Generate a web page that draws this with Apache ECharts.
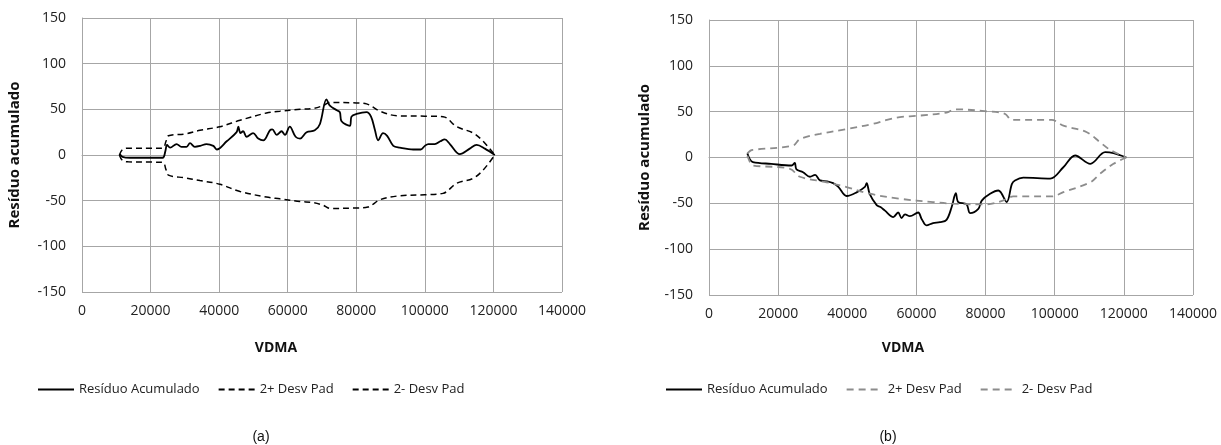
<!DOCTYPE html>
<html>
<head>
<meta charset="utf-8">
<title>Resíduo acumulado x VDMA</title>
<script src="https://cdn.jsdelivr.net/npm/echarts@6/dist/echarts.min.js"></script>
<style>
  html,body{margin:0;padding:0;background:#fff;}
  #main{width:1221px;height:445px;}
</style>
</head>
<body>
<div id="main"></div>
<script>
// ---- dados (a) ----
var aResX = [11000,11800,14000,23500,24300,24800,25700,27600,29000,30500,31500,32900,34500,36300,38300,39300,42200,45100,45600,46200,47000,48000,49900,51400,52900,54800,55500,56800,58200,59200,60600,62300,63600,65500,67900,69400,71300,72300,74300,75200,75700,78100,78600,80100,83000,84300,85400,86400,87800,89000,90800,92700,96600,98800,100000,101000,102900,104500,105800,107300,110200,113100,115100,117500,120400];
var aResY = [1,-2,-3,-3,4,11,8,12,9,9,13,9,10,12,10,6,15,25,31,24,26,20,24,18,16,27,28,22,26,22,31,20,18,25,27,34,61,54,49,47,37,32,42,45,47,42,28,16,24,21,10,8,6,6,10,12,12,15,17,12,1,7,11,7,0];
var aSupX = [10900,11800,13500,23500,24500,25200,30000,34400,40200,46100,53800,57700,63600,67400,70300,72300,80000,83000,86900,91800,100000,105300,109300,114100,117000,120400];
var aSupY = [0,6,7.5,7.5,15,21,23,27,31,38,46,48,50,51,54,57.5,57,56,48,43,42.5,42,31,24,15,0];
var aInfX = [10900,11800,13500,23500,24500,25200,30000,34400,40200,46100,53800,57700,63600,67400,70300,72300,80000,83400,86900,91800,100000,105300,109300,114100,117000,120400];
var aInfY = [0,-6,-7.5,-8,-16,-22,-25,-28,-32,-40,-46,-48,-51,-52,-55,-58.5,-58,-57,-49,-45,-43.5,-42,-31,-25.5,-16.5,0];

// ---- dados (b) ----
var bResX = [11100,11800,12700,18000,23900,24800,25300,27200,29200,30700,32100,34200,35900,37400,39800,42700,45100,45600,46500,48500,49600,50900,53300,54700,55700,56700,58100,60500,61500,62900,64800,66800,68700,70200,71400,72100,74500,75500,77900,78900,81300,83700,86100,87600,88500,90900,98700,102500,105900,110300,114600,117000,120700];
var bResY = [4.5,-2,-5,-7,-8.7,-6,-13,-16,-21,-19,-25,-26,-28,-32,-42,-38,-32,-28,-40,-52,-54,-58,-65,-60,-66,-62,-64,-60,-67,-74,-71.5,-70.5,-68,-54,-39,-48.6,-51,-60.6,-56,-47,-39.6,-36,-48.6,-29,-25,-22,-23,-10.6,2.2,-6.9,5.8,4.7,0];
var bSupX = [11100,12000,12700,24300,26300,32100,39800,47500,51400,55200,61000,68700,71100,80300,85600,87600,99100,102500,109300,113100,116000,120700];
var bSupY = [4.5,7.5,8.4,13,20,25.8,31,36.7,41,44,45.7,49,52.6,50.4,47.6,41,41,34.8,27.6,16.7,8.4,0];
var bInfX = [11100,12000,12700,23400,26300,34000,39800,46500,55200,64800,70600,80300,85000,88000,99100,102500,110300,113100,117000,120700];
var bInfY = [2,-6,-8.7,-12.3,-21,-27,-32.3,-39.5,-45,-48.6,-50.4,-51.2,-47,-42.5,-42.5,-37.8,-27,-17.8,-6.9,0];

// ticks
var xTicks = [0,20000,40000,60000,80000,100000,120000,140000];
var yTicks = [-150,-100,-50,0,50,100,150];

var names = ['Resíduo Acumulado','2+ Desv Pad','2- Desv Pad'];

function zip(xs,ys){
    var out=[];
    for(var i=0;i<xs.length;i++){ out.push([xs[i],ys[i]]); }
    return out;
}

var font = '"Open Sans", "Liberation Sans", sans-serif';
var gridColor = '#a6a6a6';

function xAxis(idx){
    return {
        type:'value', gridIndex:idx,
        min:xTicks[0], max:xTicks[xTicks.length-1], interval:20000,
        axisLine:{show:true,lineStyle:{color:gridColor}},
        axisTick:{show:false},
        splitLine:{show:true,lineStyle:{color:gridColor,width:1}},
        axisLabel:{color:'#222',fontFamily:font,fontSize:14,margin:12,
            formatter:function(v){return String(v);}}
    };
}
function yAxis(idx,gap){
    return {
        type:'value', gridIndex:idx,
        min:yTicks[0], max:yTicks[yTicks.length-1], interval:50,
        name:'Resíduo acumulado', nameLocation:'middle', nameGap:gap, nameRotate:90,
        nameTextStyle:{color:'#111',fontFamily:font,fontSize:15,fontWeight:'bold'},
        axisLine:{show:true,lineStyle:{color:gridColor}},
        axisTick:{show:false},
        splitLine:{show:true,lineStyle:{color:gridColor,width:1}},
        axisLabel:{color:'#222',fontFamily:font,fontSize:14,margin:16,
            formatter:function(v){return String(v);}}
    };
}
function line(name,idx,data,color,dash,w){
    return {
        name:name, type:'line', xAxisIndex:idx, yAxisIndex:idx,
        data:data, smooth:0.35, symbol:'none', silent:true,
        itemStyle:{color:color},
        lineStyle:{color:color,width:w,type:dash}
    };
}
function legend(left,tag){
    return {
        show:true, left:left, top:378, itemWidth:36, itemHeight:12, itemGap:18,
        data:names.map(function(n){return tag+n;}),
        formatter:function(n){return n.slice(2);},
        itemStyle:{opacity:0},
        textStyle:{color:'#222',fontFamily:font,fontSize:13}
    };
}

var chart = echarts.init(document.getElementById('main'));
var option = {
    animation:false,
    backgroundColor:'#fff',
    grid:[
        {left:82,top:18,width:480,height:274},
        {left:709,top:20,width:484,height:275}
    ],
    xAxis:[xAxis(0),xAxis(1)],
    yAxis:[yAxis(0,60),yAxis(1,57)],
    legend:[legend(32,'a:'),legend(660,'b:')],
    title:[
        {text:'VDMA',left:271,top:336,textAlign:'center',textStyle:{fontFamily:font,fontSize:14,fontWeight:'bold',color:'#111'}},
        {text:'VDMA',left:898,top:336,textAlign:'center',textStyle:{fontFamily:font,fontSize:14,fontWeight:'bold',color:'#111'}},
        {text:'(a)',left:256,top:425,textAlign:'center',textStyle:{fontFamily:'"Liberation Sans", Arial, sans-serif',fontSize:14,fontWeight:'normal',color:'#111'}},
        {text:'(b)',left:883,top:425,textAlign:'center',textStyle:{fontFamily:'"Liberation Sans", Arial, sans-serif',fontSize:14,fontWeight:'normal',color:'#111'}}
    ],
    series:[
        line('a:'+names[0],0,zip(aResX,aResY),'#000','solid',1.8),
        line('a:'+names[1],0,zip(aSupX,aSupY),'#000',[6,4],1.5),
        line('a:'+names[2],0,zip(aInfX,aInfY),'#000',[6,4],1.5),
        line('b:'+names[0],1,zip(bResX,bResY),'#000','solid',1.8),
        line('b:'+names[1],1,zip(bSupX,bSupY),'#8c8c8c',[7,5],1.8),
        line('b:'+names[2],1,zip(bInfX,bInfY),'#8c8c8c',[7,5],1.8)
    ]
};
chart.setOption(option);
</script>
</body>
</html>
